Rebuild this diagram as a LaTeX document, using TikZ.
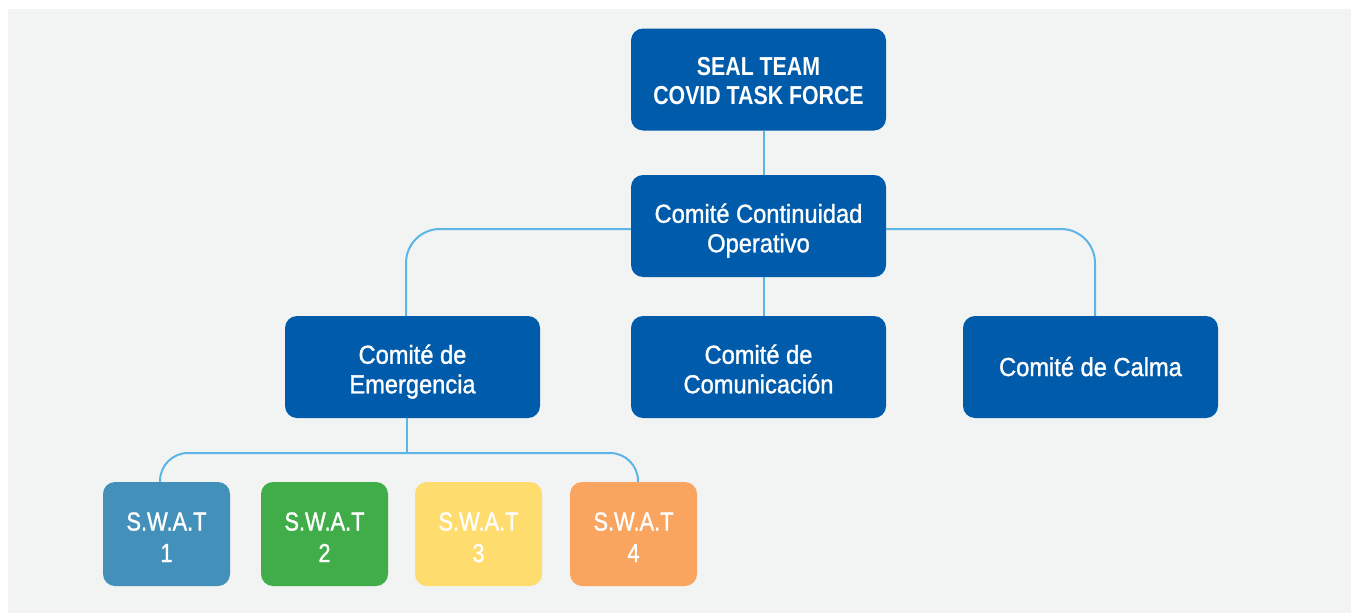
\documentclass[tikz,border=0pt]{standalone}
\usepackage{fontspec}
\setmainfont{Liberation Sans}
\newfontfamily\boxfont{Liberation Sans}[FakeStretch=0.91,FakeBold=1.2]
\newfontfamily\swatfont{Liberation Sans}[FakeStretch=0.84,FakeBold=1.2]
\newfontfamily\titlefont{Liberation Sans Bold}[FakeStretch=0.82]
\definecolor{bgc}{HTML}{F2F3F3}
\definecolor{navy}{HTML}{005BAA}
\definecolor{linec}{HTML}{5DB5E6}
\definecolor{swatA}{HTML}{4391BA}
\definecolor{swatB}{HTML}{40AD49}
\definecolor{swatC}{HTML}{FFDC6E}
\definecolor{swatD}{HTML}{F9A560}
\newcommand\hs[1]{\rule{0pt}{#1pt}}
\newcommand\ds[1]{\rule[-#1pt]{0pt}{#1pt}}
\tikzset{
  bigbox/.style={fill=navy, rounded corners=12pt, minimum width=255pt, minimum height=102pt,
    text=white, align=center, inner sep=0pt, font=\boxfont\fontsize{26}{29.5}\selectfont},
  swatbox/.style={rounded corners=12pt, minimum width=127pt, minimum height=104pt,
    text=white, align=center, inner sep=0pt, font=\swatfont\fontsize{26}{31.5}\selectfont},
  conn/.style={draw=linec, line width=2pt}
}
\begin{document}
\begin{tikzpicture}[x=1pt,y=-1pt]
\useasboundingbox (0,0) rectangle (1351,613);
\fill[white] (0,0) rectangle (1351,613);
\fill[bgc] (8,9) rectangle (1351,613);
% boxes
\node[bigbox, font=\titlefont\fontsize{26}{29}\selectfont] (top) at (758.5,79.5) {\hs{26}SEAL TEAM\\COVID TASK FORCE\ds{6}};
\node[bigbox] (cont) at (758.5,226) {\hs{29}Comité Continuidad\\Operativo\ds{6}};
\node[bigbox] (emer) at (412.5,367) {\hs{29}Comité de\\Emergencia\ds{6}};
\node[bigbox] (comu) at (758.5,367) {\hs{29}Comité de\\Comunicación\ds{6}};
\node[bigbox] (calma) at (1090.5,367) {\hs{24}Comité de Calma\ds{6}};
\node[swatbox, fill=swatA] (s1) at (166.5,534) {\hs{26}S.W.A.T\\1\ds{1.5}};
\node[swatbox, fill=swatB] (s2) at (324.5,534) {\hs{26}S.W.A.T\\2\ds{1.5}};
\node[swatbox, fill=swatC] (s3) at (478.5,534) {\hs{26}S.W.A.T\\3\ds{1.5}};
\node[swatbox, fill=swatD] (s4) at (633.5,534) {\hs{26}S.W.A.T\\4\ds{1.5}};
\coordinate (bus) at (407,453);
% connectors
\draw[conn] ([xshift=5.5pt]top.south) -- ([xshift=5.5pt]cont.north);
\draw[conn] ([xshift=5.5pt]cont.south) -- ([xshift=5.5pt]comu.north);
\draw[conn, rounded corners=34pt] ([yshift=-3pt]cont.west) -| ([xshift=-6.5pt]emer.north);
\draw[conn, rounded corners=34pt] ([yshift=-3pt]cont.east) -| ([xshift=4.5pt]calma.north);
\draw[conn] ([xshift=-5.5pt]emer.south) -- (bus);
\draw[conn, rounded corners=28pt] ([xshift=-6.5pt]s1.north) |- (bus) -| ([xshift=4.5pt]s4.north);
\end{tikzpicture}
\end{document}
